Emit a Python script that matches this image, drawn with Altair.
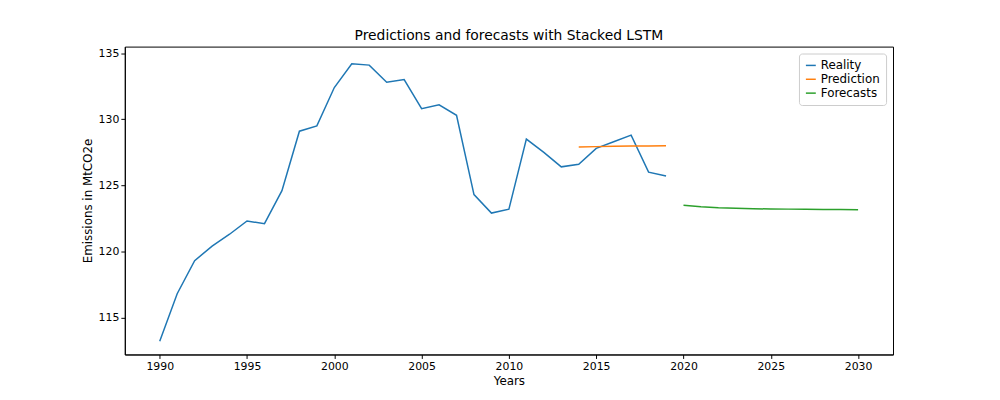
import altair as alt
import pandas as pd

years_real = list(range(1990, 2020))
reality = [113.2, 116.8, 119.3, 120.4, 121.3, 122.3, 122.1, 124.6, 129.1, 129.5,
           132.4, 134.2, 134.1, 132.8, 133.0, 130.8, 131.1, 130.3, 124.3, 122.9,
           123.2, 128.5, 127.5, 126.4, 126.6, 127.8, 128.3, 128.8, 126.0, 125.7]
years_pred = list(range(2014, 2020))
prediction = [127.9, 127.93, 127.95, 127.97, 127.98, 128.0]
years_fc = list(range(2020, 2031))
forecasts = [123.5, 123.38, 123.3, 123.26, 123.23, 123.21, 123.2, 123.19, 123.18, 123.17, 123.16]

df = pd.concat([
    pd.DataFrame({"year": years_real, "value": reality, "series": "Reality"}),
    pd.DataFrame({"year": years_pred, "value": prediction, "series": "Prediction"}),
    pd.DataFrame({"year": years_fc, "value": forecasts, "series": "Forecasts"}),
])

font = "DejaVu Sans"
chart = alt.Chart(df).mark_line(strokeWidth=1.5).encode(
    x=alt.X("year:Q", title="Years", scale=alt.Scale(domain=[1988, 2032], nice=False, zero=False),
            axis=alt.Axis(values=list(range(1990, 2031, 5)), format="d", grid=False)),
    y=alt.Y("value:Q", title="Emissions in MtCO2e", scale=alt.Scale(domain=[112.2, 135.5], nice=False, zero=False),
            axis=alt.Axis(values=[115, 120, 125, 130, 135], grid=False)),
    color=alt.Color("series:N", scale=alt.Scale(domain=["Reality", "Prediction", "Forecasts"],
                                                range=["#1f77b4", "#ff7f0e", "#2ca02c"]),
                    legend=alt.Legend(title=None, orient="top-right", symbolType="stroke",
                                      strokeColor="#cccccc", fillColor="white", padding=6,
                                      cornerRadius=3, labelFontSize=12, labelFont=font,
                                      symbolStrokeWidth=1.5, offset=7)),
    detail="series:N",
).properties(
    width=776, height=311,
    title=alt.Title("Predictions and forecasts with Stacked LSTM", fontSize=14, fontWeight="normal", font=font),
    autosize="none",
    padding={"left": 118, "top": 37, "right": 100, "bottom": 45},
).configure_axis(
    domainColor="black", tickColor="black", labelColor="black", titleColor="black",
    labelFont=font, titleFont=font, labelFontSize=11, titleFontSize=12, titleFontWeight="normal",
    tickSize=4,
).configure_view(stroke="black")

chart.save("out.html", embed_options={"renderer": "svg", "actions": False})
